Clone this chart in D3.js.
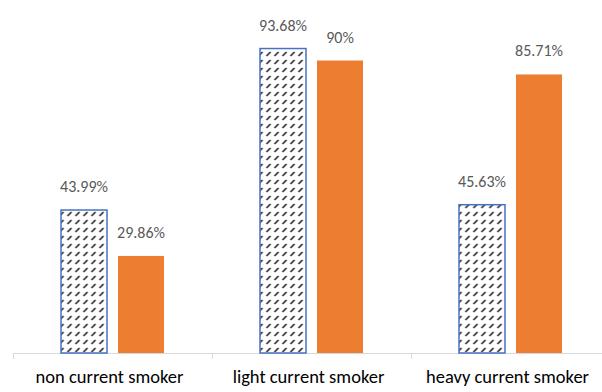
<!DOCTYPE html>
<html>
<head>
<meta charset="utf-8">
<script src="https://cdn.jsdelivr.net/npm/d3@7"></script>
<style>
  body { margin: 0; background: #fff; }
  svg { display: block; font-family: Carlito, Calibri, Lato, sans-serif; }
</style>
</head>
<body>
<div id="chart"></div>
<script>
const categories = ['non current smoker', 'light current smoker', 'heavy current smoker'];
const seriesA = [43.99, 93.68, 45.63];
const seriesB = [29.86, 90, 85.71];
const labelsA = ['43.99%', '93.68%', '45.63%'];
const labelsB = ['29.86%', '90%', '85.71%'];

const width = 602, height = 392;
const baseline = 353;

const svg = d3.select('#chart').append('svg')
    .attr('width', width).attr('height', height);

// hatch pattern for the first series
const pat = svg.append('defs').append('pattern')
    .attr('id', 'hatch')
    .attr('patternUnits', 'userSpaceOnUse')
    .attr('x', 1).attr('y', 2)
    .attr('width', 8).attr('height', 8);
pat.append('rect').attr('width', 8).attr('height', 8).attr('fill', '#fff');
pat.append('line')
    .attr('x1', 2).attr('y1', 6).attr('x2', 6).attr('y2', 2)
    .attr('stroke', '#111').attr('stroke-width', 1.5);

const x = d3.scaleBand().domain(categories).range([13, 610]);
const y = d3.scaleLinear().domain([0, 100]).range([baseline, 28]);

const barW = 46, gap = 11;

// axis line + ticks
svg.append('line')
    .attr('x1', 13).attr('x2', width)
    .attr('y1', baseline + 0.5).attr('y2', baseline + 0.5)
    .attr('stroke', '#d9d9d9');
svg.selectAll('.tick').data(categories).enter().append('line')
    .attr('x1', d => x(d) + 0.5).attr('x2', d => x(d) + 0.5)
    .attr('y1', baseline).attr('y2', baseline + 6)
    .attr('stroke', '#d9d9d9');

const groups = svg.selectAll('.grp').data(categories).enter().append('g')
    .attr('transform', d => 'translate(' + (x(d) + x.bandwidth() / 2) + ',0)');

groups.append('rect')
    .attr('x', -barW - gap / 2)
    .attr('y', (d, i) => y(seriesA[i]))
    .attr('width', barW)
    .attr('height', (d, i) => baseline - y(seriesA[i]))
    .attr('fill', 'url(#hatch)')
    .attr('stroke', '#4472c4').attr('stroke-width', 1.5);

groups.append('rect')
    .attr('x', gap / 2)
    .attr('y', (d, i) => y(seriesB[i]))
    .attr('width', barW)
    .attr('height', (d, i) => baseline - y(seriesB[i]))
    .attr('fill', '#ed7d31');

groups.append('text')
    .attr('x', -barW / 2 - gap / 2)
    .attr('y', (d, i) => y(seriesA[i]) - 18)
    .attr('text-anchor', 'middle')
    .attr('font-size', 16).attr('fill', '#595959')
    .text((d, i) => labelsA[i]);

groups.append('text')
    .attr('x', barW / 2 + gap / 2)
    .attr('y', (d, i) => y(seriesB[i]) - 18)
    .attr('text-anchor', 'middle')
    .attr('font-size', 16).attr('fill', '#595959')
    .text((d, i) => labelsB[i]);

groups.append('text')
    .attr('x', -3)
    .attr('y', 383)
    .attr('text-anchor', 'middle')
    .attr('font-size', 18.5).attr('fill', '#000')
    .text(d => d);
</script>
</body>
</html>
